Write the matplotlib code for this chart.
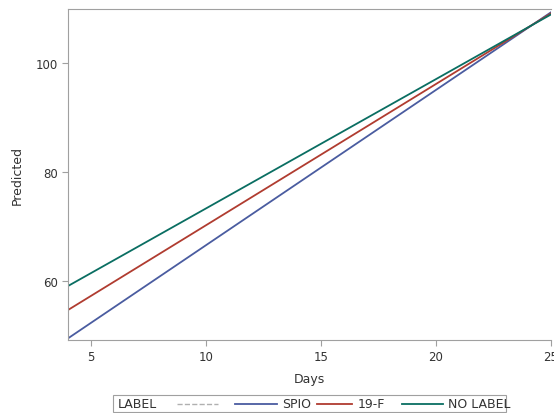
import numpy as np
import matplotlib.pyplot as plt
from matplotlib.lines import Line2D
from matplotlib.patches import Rectangle

days = [4, 25]
series_names = ["SPIO", "19-F", "NO LABEL"]
spio = [49.5, 109.3]
f19 = [54.7, 109.1]
no_label = [59.1, 108.9]
colors = ["#4a5ca0", "#b03c30", "#0a6e62"]

x_ticks = [5, 10, 15, 20, 25]
y_ticks = [60, 80, 100]

W, H = 554, 414
fig = plt.figure(figsize=(W / 100, H / 100), dpi=100)
ax = fig.add_axes([68 / W, 73 / H, 483 / W, 331 / H])

for vals, c in zip([spio, f19, no_label], colors):
    ax.plot(days, vals, color=c, linewidth=1.3)

ax.set_xlim(4, 25)
ax.set_ylim(49.2, 109.9)
ax.set_xticks(x_ticks)
ax.set_yticks(y_ticks)
ax.set_xlabel("Days", fontsize=9, color="#333333", labelpad=6)
ax.set_ylabel("Predicted", fontsize=9, color="#333333", labelpad=8)
ax.tick_params(labelsize=8.5, colors="#a0a0a0", labelcolor="#333333", length=4)
for s in ["left", "bottom", "top"]:
    ax.spines[s].set_color("#a0a0a0")
ax.spines["right"].set_visible(False)

# legend drawn by hand in pixel positions (SAS style strip)
def fx(px):
    return px / W

def fy(py):
    return (H - py) / H

tf = fig.transFigure
fig.add_artist(Rectangle((fx(113), fy(413)), fx(506) - fx(113), fy(396) - fy(413),
                         transform=tf, fill=False, edgecolor="#a0a0a0", linewidth=0.8))
ymid = fy(404.5)
fig.text(fx(118), ymid, "LABEL", transform=tf, fontsize=9, color="#333333", va="center")
fig.add_artist(Line2D([fx(177), fx(218)], [ymid, ymid], transform=tf,
                      color="#b0b0b0", linestyle="--", linewidth=1))
seg = [(235, 277, 282), (317, 352, 358), (402, 443, 448)]
for (x0, x1, xt), name, c in zip(seg, series_names, colors):
    fig.add_artist(Line2D([fx(x0), fx(x1)], [ymid, ymid], transform=tf, color=c, linewidth=1.3))
    fig.text(fx(xt), ymid, name, transform=tf, fontsize=9, color="#333333", va="center")

fig.savefig("out.png", dpi=100)
